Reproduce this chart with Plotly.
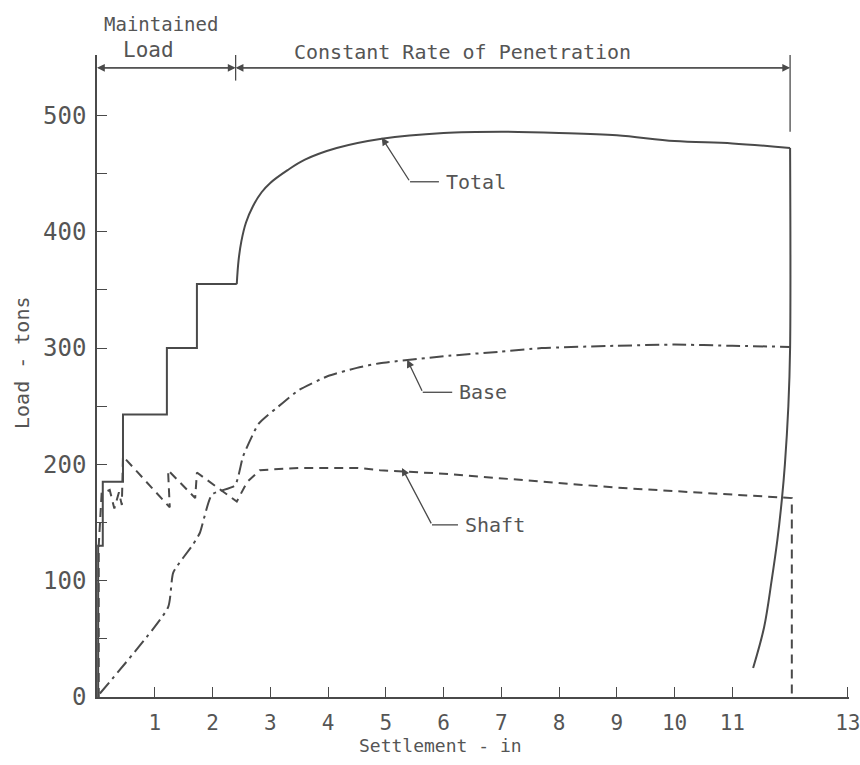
import plotly.graph_objects as go

# ---- data ----
total_ml_x = [0.02, 0.02, 0.1, 0.1, 0.45, 0.45, 1.21, 1.21, 1.73, 1.73, 2.42]
total_ml_y = [0, 130, 130, 185, 185, 243, 243, 300, 300, 355, 355]

total_crp_x = [2.42, 2.45, 2.50, 2.58, 2.70, 2.85, 3.0, 3.3, 3.6, 4.15, 4.93, 6, 7, 8, 9, 10, 11, 12.0]
total_crp_y = [355, 375, 392, 408, 422, 434, 442, 453, 462, 472, 480, 485, 486, 485, 483, 478, 476, 472]

total_unl_x = [12.0, 12.0, 11.97, 11.91, 11.86, 11.78, 11.68, 11.55, 11.36]
total_unl_y = [472, 300, 250, 200, 171, 135, 100, 60, 25]

base_x = [0.05, 1.23, 1.32, 1.66, 1.78, 1.99, 2.39, 2.53, 2.8, 3.22, 3.5, 4.0, 4.5, 4.9, 6, 7, 7.7, 9, 10, 11, 12.0]
base_y = [3, 77, 107, 131, 141, 174, 182, 207, 235, 253, 264, 276, 283, 287, 293, 297, 300, 302, 303, 302, 301]

shaft_x = [0.03, 0.03, 0.08, 0.22, 0.3, 0.38, 0.43, 0.45, 1.26, 1.23, 1.70, 1.73, 2.42, 2.6, 2.82, 3.5, 4.5, 4.9, 6, 7.7, 9, 10, 11, 12.03, 12.03]
shaft_y = [0, 130, 175, 178, 162, 176, 165, 207, 163, 195, 171, 193, 168, 185, 195, 197, 197, 195, 192, 185, 180, 177, 174, 171, 0]

x_ticks = [1, 2, 3, 4, 5, 6, 7, 8, 9, 10, 11, 13]
y_ticks = [0, 50, 100, 150, 200, 250, 300, 350, 400, 450, 500]
y_ticktext = ["0", "", "100", "", "200", "", "300", "", "400", "", "500"]

labels = ["Total", "Base", "Shaft"]
label_tip = [(4.93, 481), (5.37, 290), (5.28, 197)]
label_bend = [(5.42, 443), (5.64, 262), (5.8, 148)]
label_end_x = [5.92, 6.15, 6.25]

phase_split = 2.4
phase_end = 12.0

INK = "#4a4a4a"
TXT = "#555555"
FONT = "DejaVu Sans Mono"

fig = go.Figure()
fig.add_trace(go.Scatter(x=total_ml_x, y=total_ml_y, mode="lines",
                         line=dict(color=INK, width=2), showlegend=False))
fig.add_trace(go.Scatter(x=total_crp_x, y=total_crp_y, mode="lines", line_shape="spline",
                         line=dict(color=INK, width=2), showlegend=False))
fig.add_trace(go.Scatter(x=total_unl_x, y=total_unl_y, mode="lines", line_shape="spline",
                         line=dict(color=INK, width=2), showlegend=False))
fig.add_trace(go.Scatter(x=base_x, y=base_y, mode="lines", line_shape="spline",
                         line=dict(color=INK, width=2, dash="14px,5px,3px,5px", smoothing=0.5),
                         showlegend=False))
fig.add_trace(go.Scatter(x=shaft_x, y=shaft_y, mode="lines",
                         line=dict(color=INK, width=2, dash="9px,6px"), showlegend=False))

# curve labels with leader arrows
for name, tip, bend, ex in zip(labels, label_tip, label_bend, label_end_x):
    fig.add_annotation(x=tip[0], y=tip[1], ax=bend[0], ay=bend[1], axref="x", ayref="y",
                       xref="x", yref="y", text="", showarrow=True, arrowhead=2,
                       arrowsize=1.2, arrowwidth=1.3, arrowcolor=INK)
    fig.add_shape(type="line", x0=bend[0], y0=bend[1], x1=ex, y1=bend[1],
                  xref="x", yref="y", line=dict(color=INK, width=1.3))
    fig.add_annotation(x=ex + 0.08, y=bend[1], xref="x", yref="y", text=name,
                       showarrow=False, xanchor="left", yanchor="middle",
                       font=dict(family=FONT, size=20, color=TXT))

# dimension line at top
dim_y = 541
for x0, x1 in [(phase_split, 0), (0, phase_split), (phase_end, phase_split), (phase_split, phase_end)]:
    fig.add_annotation(x=x1, y=dim_y, ax=x0, ay=dim_y, axref="x", ayref="y", xref="x", yref="y",
                       text="", showarrow=True, arrowhead=2, arrowsize=1.3, arrowwidth=1.2,
                       arrowcolor=INK)
fig.add_shape(type="line", x0=phase_split, x1=phase_split, y0=530, y1=552,
              xref="x", yref="y", line=dict(color=INK, width=1.3))
fig.add_shape(type="line", x0=phase_end, x1=phase_end, y0=486, y1=552,
              xref="x", yref="y", line=dict(color=INK, width=1.3))

fig.add_annotation(x=1.1, y=1.048, xref="x", yref="paper", text="Maintained",
                   showarrow=False, xanchor="center", yanchor="middle",
                   font=dict(family=FONT, size=19, color=TXT))
fig.add_annotation(x=0.9, y=1.008, xref="x", yref="paper", text="Load",
                   showarrow=False, xanchor="center", yanchor="middle",
                   font=dict(family=FONT, size=21, color=TXT))
fig.add_annotation(x=6.32, y=1.005, xref="x", yref="paper", text="Constant Rate of Penetration",
                   showarrow=False, xanchor="center", yanchor="middle",
                   font=dict(family=FONT, size=20, color=TXT))

# axis titles
fig.add_annotation(x=5.95, y=-0.075, xref="x", yref="paper", text="Settlement - in", showarrow=False,
                   xanchor="center", yanchor="middle", font=dict(family=FONT, size=18, color=TXT))
fig.add_annotation(x=-0.1, y=0.52, xref="paper", yref="paper", text="Load - tons", showarrow=False,
                   textangle=-90, xanchor="center", yanchor="middle",
                   font=dict(family=FONT, size=20, color=TXT))

fig.update_xaxes(range=[0, 13.02], tickvals=x_ticks, ticktext=[str(v) for v in x_ticks],
                 ticks="inside", ticklen=10, tickwidth=1.3, tickcolor=INK,
                 showline=True, linecolor=INK, linewidth=1.5, showgrid=False, zeroline=False,
                 tickfont=dict(family=FONT, size=21, color=TXT), ticklabelstandoff=6,
                 ticklabeloverflow="allow", automargin=False)
fig.update_yaxes(range=[0, 552], tickvals=y_ticks, ticktext=y_ticktext,
                 ticks="inside", ticklen=10, tickwidth=1.3, tickcolor=INK,
                 showline=True, linecolor=INK, linewidth=1.5, showgrid=False, zeroline=False,
                 tickfont=dict(family=FONT, size=24, color=TXT), ticklabelstandoff=4,
                 ticklabeloverflow="allow", automargin=False)

fig.update_layout(width=860, height=765, margin=dict(l=97, r=11, t=55, b=68),
                  plot_bgcolor="white", paper_bgcolor="white", showlegend=False)

# remove the default 8px page margin so the full-size figure fits the window exactly
fig.write_html("out.html", config={"displayModeBar": False},
               post_script="document.body.style.margin='0';document.body.style.overflow='hidden';")
